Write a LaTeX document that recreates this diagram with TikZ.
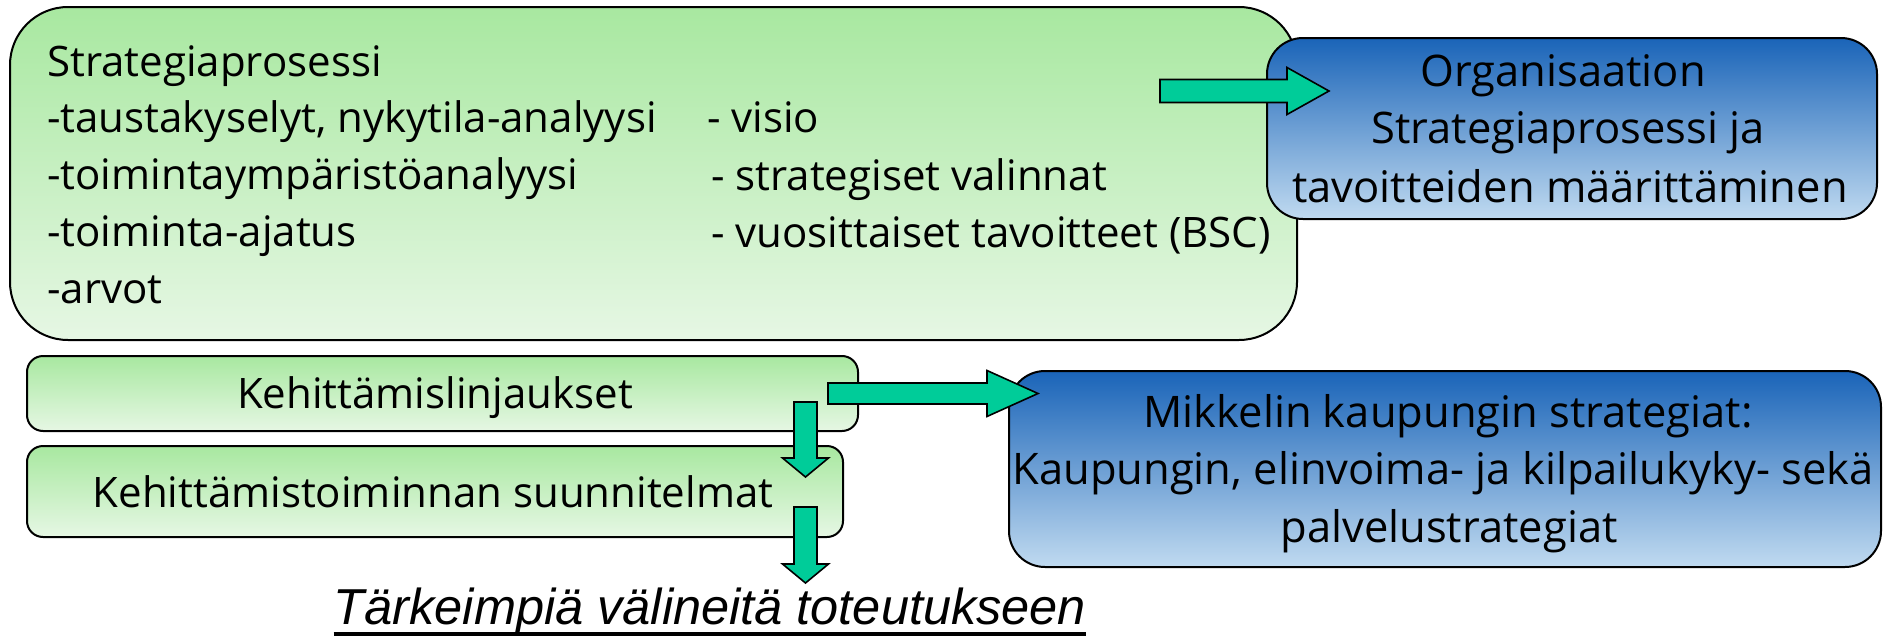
\documentclass[tikz,border=0pt]{standalone}
\usepackage{fontspec}
\setmainfont{Open Sans}
\newfontfamily\arialfont{Liberation Sans}
\usetikzlibrary{calc}
\definecolor{gtop}{RGB}{168,232,160}
\definecolor{gbot}{RGB}{230,247,228}
\definecolor{btop}{RGB}{26,100,184}
\definecolor{bbot}{RGB}{192,218,240}
\definecolor{arrowfill}{RGB}{0,204,153}
\tikzset{
  gbox/.style={draw=black, line width=2pt, top color=gtop, bottom color=gbot, inner sep=0pt},
  bbox/.style={draw=black, line width=2pt, top color=btop, bottom color=bbot, inner sep=0pt},
  barrow/.style={draw=black, line width=1.6pt, fill=arrowfill, line join=miter},
  txt/.style={inner sep=0pt, font=\fontsize{42}{57}\selectfont},
  btxt/.style={inner sep=0pt, font=\fontsize{43.5}{57}\selectfont},
  bigtxt/.style={inner sep=0pt, font=\arialfont\fontsize{50.5}{60}\selectfont\itshape},
  uline/.style={line width=4pt}
}
\newcommand{\harrow}[5]{%
  \draw[barrow] ($(#1)+(0,#3)$) -- ($(#2)+(-#5,#3)$) -- ($(#2)+(-#5,#4)$) -- (#2)
    -- ($(#2)+(-#5,-#4)$) -- ($(#2)+(-#5,-#3)$) -- ($(#1)+(0,-#3)$) -- cycle;}
\newcommand{\varrow}[5]{%
  \draw[barrow] ($(#1)+(#3,0)$) -- ($(#2)+(#3,-#5)$) -- ($(#2)+(#4,-#5)$) -- (#2)
    -- ($(#2)+(-#4,-#5)$) -- ($(#2)+(-#3,-#5)$) -- ($(#1)+(-#3,0)$) -- cycle;}
\begin{document}
\begin{tikzpicture}[x=1pt,y=-1pt]
\useasboundingbox (0,0) rectangle (1883,637);
\fill[white] (0,0) rectangle (1883,637);
% big green box
\node[gbox, rounded corners=58pt, minimum width=1287pt, minimum height=333pt] (strat) at (653.5,173.5) {};
\node[txt, anchor=base west] (s0) at (47,76) {Strategiaprosessi};
\node[txt, anchor=base west] (s1) at (47,132) {-taustakyselyt, nykytila-analyysi};
\node[txt, anchor=base west] (s2) at (47,189) {-toimintaympäristöanalyysi};
\node[txt, anchor=base west] (s3) at (47,246.5) {-toiminta-ajatus};
\node[txt, anchor=base west] (s4) at (47,303) {-arvot};
\node[txt, anchor=base west] (r1) at (707,132.5) {- visio};
\node[txt, anchor=base west] (r2) at (711,190) {- strategiset valinnat};
\node[txt, anchor=base west] (r3) at (711,247.5) {- vuosittaiset tavoitteet (BSC)};
% blue box 1
\node[bbox, rounded corners=36pt, minimum width=610pt, minimum height=181pt] (org) at (1572,128.5) {};
\node[btxt, anchor=base] (o1) at (1563,86) {Organisaation};
\node[btxt, anchor=base] (o2) at (1568,143) {Strategiaprosessi ja};
\node[btxt, anchor=base] (o3) at (1570,202) {tavoitteiden määrittäminen};
% arrow 1
\coordinate (a1s) at (1160,91);
\coordinate (a1e) at (1329,91);
\harrow{a1s}{a1e}{11.5}{23.5}{42}
% lower green boxes
\node[gbox, rounded corners=16pt, minimum width=831pt, minimum height=75pt] (keh1) at (442.5,393.5) {};
\node[txt, anchor=base] (k1) at (435,408) {Kehittämislinjaukset};
\node[gbox, rounded corners=16pt, minimum width=816pt, minimum height=91pt] (keh2) at (435,491.5) {};
\node[txt, anchor=base] (k2) at (433,507) {Kehittämistoiminnan suunnitelmat};
% blue box 2
\node[bbox, rounded corners=36pt, minimum width=872pt, minimum height=196pt] (mik) at (1445,469) {};
\node[btxt, anchor=base] (m1) at (1448,427) {Mikkelin kaupungin strategiat:};
\node[btxt, anchor=base] (m2) at (1443,484) {Kaupungin, elinvoima- ja kilpailukyky- sekä};
\node[btxt, anchor=base] (m3) at (1449,542) {palvelustrategiat};
% arrow 2
\coordinate (a2s) at (828,393.5);
\coordinate (a2e) at (1038,393.5);
\harrow{a2s}{a2e}{10.5}{23}{51}
% down arrows
\coordinate (d1s) at (805.5,402);
\coordinate (d1e) at (805.5,477);
\varrow{d1s}{d1e}{11.5}{23}{19}
\coordinate (d2s) at (805.5,507);
\coordinate (d2e) at (805.5,583);
\varrow{d2s}{d2e}{11.5}{23}{19}
% bottom text
\node[bigtxt, anchor=base] (tk) at (710,624) {Tärkeimpiä välineitä toteutukseen};
\draw[uline] ($(tk.base west)+(0,9.5)$) -- ($(tk.base east)+(0,9.5)$);
\end{tikzpicture}
\end{document}
